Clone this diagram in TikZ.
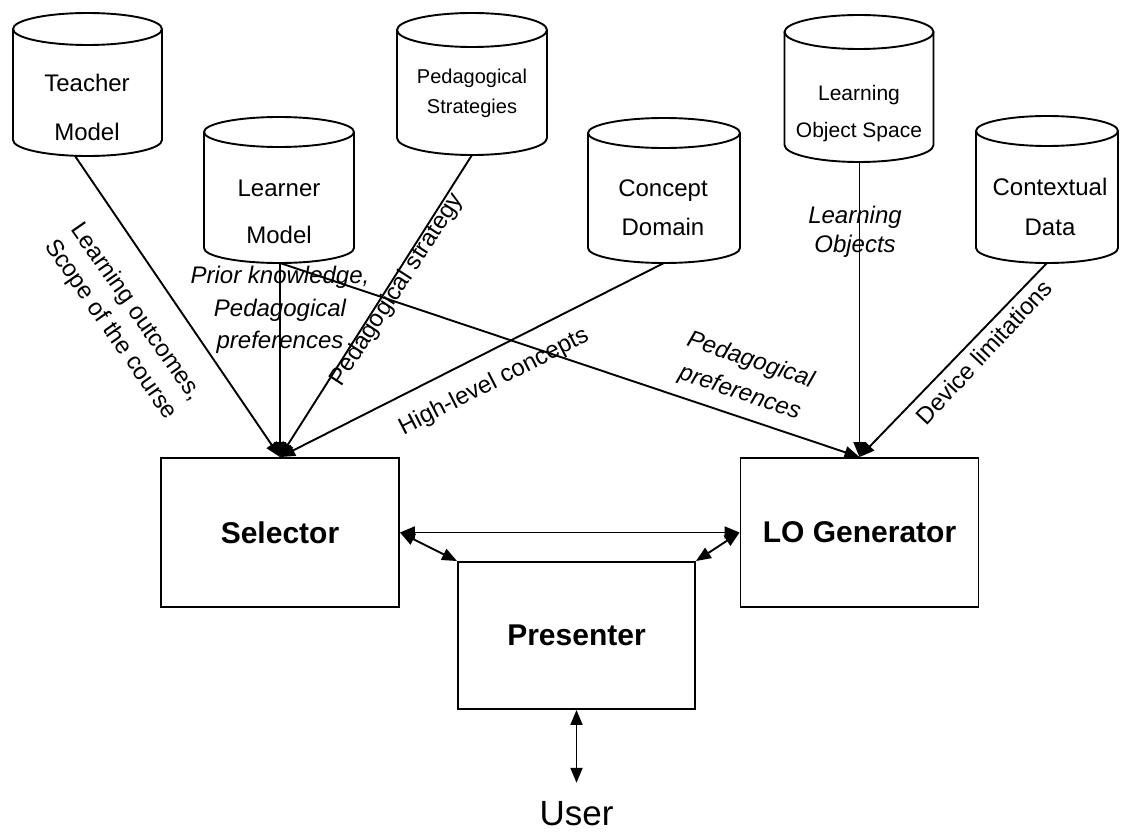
\documentclass[tikz,border=0pt]{standalone}
\usepackage{fontspec}
\setmainfont{Liberation Sans}
\usetikzlibrary{arrows.meta}
\newcommand\mycyl[5]{%
  \draw[cylline] (#1-#4,-#2) -- (#1-#4,-#3) arc[start angle=180,end angle=360,x radius=#4,y radius=#5] -- (#1+#4,-#2);
  \draw[cylline] (#1,-#2) ellipse[x radius=#4,y radius=#5];}
\begin{document}
\begin{tikzpicture}[x=1pt,y=1pt,line width=1.9pt,
  cylline/.style={line width=1.9pt},
  arr/.style={-{Triangle[length=15pt,width=12pt]}},
  darr/.style={{Triangle[length=15pt,width=12pt]}-{Triangle[length=15pt,width=12pt]}},
  box/.style={draw,rectangle,minimum width=238pt,minimum height=149pt,inner sep=0pt,
    font=\fontsize{30}{36}\selectfont\bfseries},
  cyltext/.style={align=center,inner sep=0pt},
  lab/.style={align=center,inner sep=0pt},
  ilab/.style={align=center,inner sep=0pt}]
\useasboundingbox (0,0) rectangle (1123,-832);
\fill[white] (0,0) rectangle (1123,-832);

% cylinders
\mycyl{87.5}{29}{140}{74.5}{16}
\mycyl{279}{132}{248}{75}{15}
\mycyl{472}{30}{138}{75}{17}
\mycyl{664}{133}{248}{76}{15}
\mycyl{859}{32}{145}{74.5}{17}
\mycyl{1047}{131}{248}{71}{15}

\node[cyltext,font=\fontsize{24}{49}\selectfont] (TM) at (87,-107.5) {Teacher\\Model};
\node[cyltext,font=\fontsize{24}{47}\selectfont] (LM) at (279,-211.5) {Learner\\Model};
\node[cyltext,font=\fontsize{20}{30}\selectfont] (PS) at (472,-93) {Pedagogical\\Strategies};
\node[cyltext,font=\fontsize{24}{39}\selectfont] (CD) at (663,-207.5) {Concept\\Domain};
\node[cyltext,font=\fontsize{21}{37}\selectfont] (LOS) at (859,-113.5) {Learning\\Object Space};
\node[cyltext,font=\fontsize{24}{40}\selectfont] (CX) at (1050,-207) {Contextual\\Data};

\coordinate (TMb) at (75,-156);
\coordinate (LMb) at (280,-263);
\coordinate (PSb) at (472,-155);
\coordinate (CDb) at (664,-263);
\coordinate (LOSb) at (859.5,-162);
\coordinate (CXb) at (1047,-263);

% boxes
\node[box] (Sel) at (280,-532.5) {Selector};
\node[box] (LOG) at (859.5,-532.5) {LO Generator};
\node[box,minimum width=237pt,minimum height=147pt] (Pre) at (576.5,-635.5) {Presenter};
\node[inner sep=0pt,font=\fontsize{35}{40}\selectfont] (User) at (576.5,-814) {User};

% connectors
\draw[arr] (TMb) -- (Sel.north);
\draw[arr] (LMb) -- (Sel.north);
\draw[arr] (PSb) -- (Sel.north);
\draw[arr] (CDb) -- (Sel.north);
\draw[arr] (LMb) -- (LOG.north);
\draw[arr] (LOSb) -- (LOG.north);
\draw[arr] (CXb) -- (LOG.north);
\draw[darr] (Sel.east) -- (LOG.west);
\draw[darr] (Sel.east) -- (Pre.north west);
\draw[darr] (LOG.west) -- (Pre.north east);
\draw[darr,shorten >=18pt] (Pre.south) -- (User.north);

% labels
\node[lab,rotate=-55,font=\fontsize{24}{31}\selectfont] (l1) at (123,-321) {Learning outcomes,\\Scope of the course};
\node[ilab,font=\fontsize{24}{32.5}\selectfont\itshape] (l2) at (280,-310) {Prior knowledge,\\Pedagogical\\preferences};
\node[lab,rotate=57,font=\fontsize{24}{30}\selectfont] (l3) at (397,-290) {Pedagogical strategy};
\node[lab,rotate=27,font=\fontsize{24}{30}\selectfont] (l4) at (494,-382) {High-level concepts};
\node[ilab,rotate=-18.5,font=\fontsize{24}{34}\selectfont\itshape] (l5) at (745,-377) {Pedagogical\\preferences};
\node[ilab,font=\fontsize{24}{29}\selectfont\itshape] (l6) at (855,-232) {Learning\\Objects};
\node[lab,rotate=47,font=\fontsize{24}{30}\selectfont] (l7) at (984,-352) {Device limitations};
\end{tikzpicture}
\end{document}
